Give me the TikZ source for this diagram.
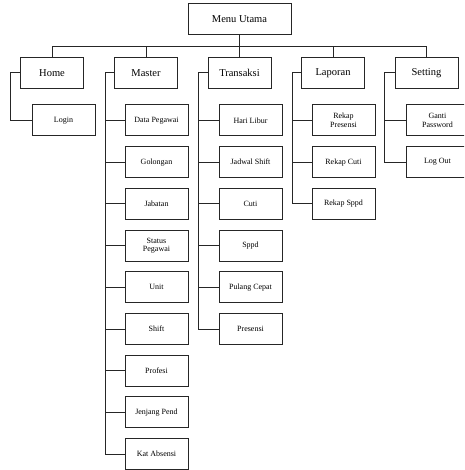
\documentclass[tikz,border=0pt]{standalone}
\usepackage{fontspec}
\setmainfont{Liberation Serif}
\usetikzlibrary{positioning}

\tikzset{
    menubox/.style={draw=black!85, line width=1pt, minimum width=63pt, minimum height=31pt,
        inner sep=1pt, font=\fontsize{10.5}{12}\selectfont},
    subbox/.style={menubox, align=center, font=\fontsize{8}{8.5}\selectfont},
    link/.style={draw=black!85, line width=1pt}
}

\begin{document}
\begin{tikzpicture}[x=1pt, y=-1pt]
    % Page area (the picture is cut at the right and bottom edges)
    \clip (0,0) rectangle (464,470);

    % Root of the menu
    \node[menubox, minimum width=103pt] (menu) at (239.5,19.5) {Menu Utama};

    % The five main menus
    \node[menubox] (home) at (52,73) {Home};
    \node[menubox] (master) at (146,73) {Master};
    \node[menubox] (transaksi) at (239.5,73) {Transaksi};
    \node[menubox] (laporan) at (333,73) {Laporan};
    \node[menubox] (setting) at (426.5,73) {Setting};

    % Home items
    \node[subbox] (login) at (63.5,120.5) {Login};

    % Master items
    \node[subbox] (pegawai) at (156.5,120.5) {Data Pegawai};
    \node[subbox, below=9.7pt of pegawai] (golongan) {Golongan};
    \node[subbox, below=9.7pt of golongan] (jabatan) {Jabatan};
    \node[subbox, below=9.7pt of jabatan] (status) {Status\\Pegawai};
    \node[subbox, below=9.7pt of status] (unit) {Unit};
    \node[subbox, below=9.7pt of unit] (shift) {Shift};
    \node[subbox, below=9.7pt of shift] (profesi) {Profesi};
    \node[subbox, below=9.7pt of profesi] (jenjang) {Jenjang Pend};
    \node[subbox, below=9.7pt of jenjang] (absensi) {Kat Absensi};

    % Transaksi items
    \node[subbox] (libur) at (250.5,120.5) {Hari Libur};
    \node[subbox, below=9.7pt of libur] (jadwal) {Jadwal Shift};
    \node[subbox, below=9.7pt of jadwal] (cuti) {Cuti};
    \node[subbox, below=9.7pt of cuti] (sppd) {Sppd};
    \node[subbox, below=9.7pt of sppd] (pulang) {Pulang Cepat};
    \node[subbox, below=9.7pt of pulang] (presensi) {Presensi};

    % Laporan items
    \node[subbox] (rekpresensi) at (343.5,120.5) {Rekap\\Presensi};
    \node[subbox, below=9.7pt of rekpresensi] (rekcuti) {Rekap Cuti};
    \node[subbox, below=9.7pt of rekcuti] (reksppd) {Rekap Sppd};

    % Setting items
    \node[subbox] (password) at (437.5,120.5) {Ganti\\Password};
    \node[subbox, below=9.7pt of password] (logout) {Log Out};

    % Root to main menus
    \foreach \m in {home,master,transaksi,laporan,setting}
        \draw[link] (menu.south) -- ++(0,11) -| (\m.north);

    % Main menus to their items
    \draw[link] (home.west) -- ++(-10,0) |- (login.west);
    \foreach \c in {pegawai,golongan,jabatan,status,unit,shift,profesi,jenjang,absensi}
        \draw[link] (master.west) -- ++(-8.5,0) |- (\c.west);
    \foreach \c in {libur,jadwal,cuti,sppd,pulang,presensi}
        \draw[link] (transaksi.west) -- ++(-9,0) |- (\c.west);
    \foreach \c in {rekpresensi,rekcuti,reksppd}
        \draw[link] (laporan.west) -- ++(-9,0) |- (\c.west);
    \foreach \c in {password,logout}
        \draw[link] (setting.west) -- ++(-10,0) |- (\c.west);
\end{tikzpicture}
\end{document}
